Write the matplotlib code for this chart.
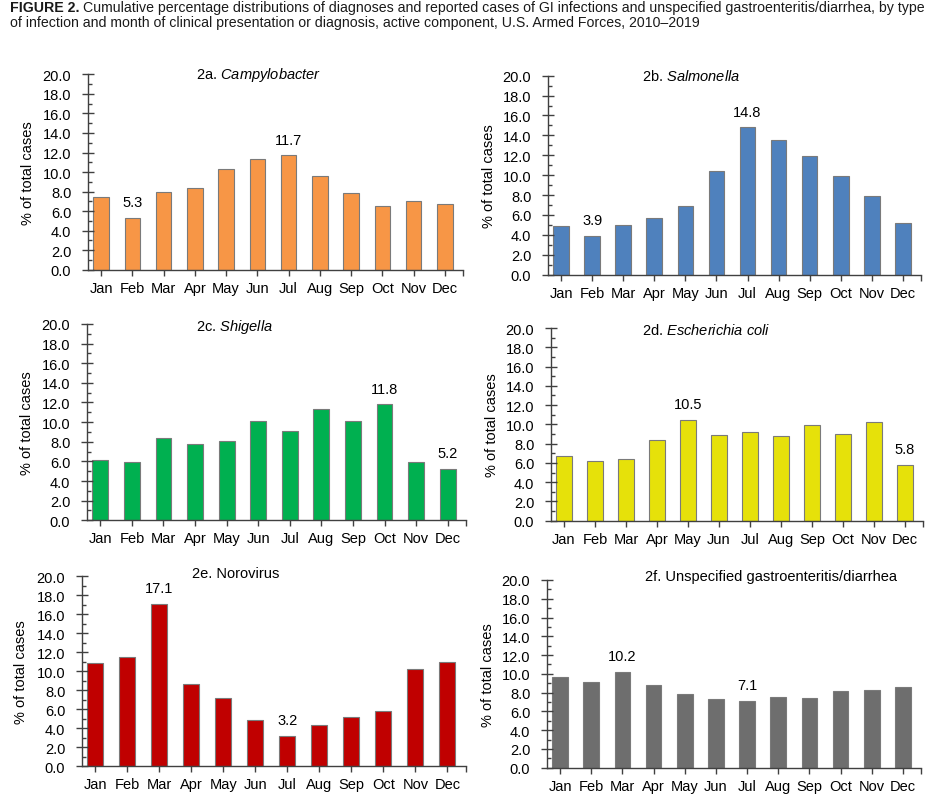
import matplotlib
matplotlib.use("Agg")
import matplotlib.pyplot as plt
from matplotlib.ticker import MultipleLocator, FormatStrFormatter, FixedLocator

plt.rcParams['font.family'] = ['Liberation Sans', 'DejaVu Sans']
plt.rcParams['mathtext.fontset'] = 'custom'
plt.rcParams['mathtext.rm'] = 'Liberation Sans'
plt.rcParams['mathtext.it'] = 'Liberation Sans:italic'

months = ["Jan", "Feb", "Mar", "Apr", "May", "Jun", "Jul", "Aug", "Sep", "Oct", "Nov", "Dec"]

campylobacter = [7.4, 5.3, 8.0, 8.4, 10.3, 11.3, 11.7, 9.6, 7.9, 6.5, 7.0, 6.7]
salmonella = [4.9, 3.9, 5.0, 5.7, 6.9, 10.4, 14.8, 13.5, 11.9, 9.9, 7.9, 5.2]
shigella = [6.1, 5.9, 8.4, 7.8, 8.1, 10.1, 9.1, 11.3, 10.1, 11.8, 5.9, 5.2]
e_coli = [6.7, 6.2, 6.4, 8.4, 10.5, 8.9, 9.2, 8.8, 9.9, 9.0, 10.2, 5.8]
norovirus = [10.9, 11.5, 17.1, 8.6, 7.2, 4.9, 3.2, 4.3, 5.2, 5.8, 10.2, 11.0]
unspecified = [9.7, 9.1, 10.2, 8.8, 7.9, 7.3, 7.1, 7.5, 7.4, 8.2, 8.3, 8.6]

titles = ["2a. $\\mathit{Campylobacter}$", "2b. $\\mathit{Salmonella}$", "2c. $\\mathit{Shigella}$",
          "2d. $\\mathit{Escherichia\\ coli}$", "2e. Norovirus", "2f. Unspecified gastroenteritis/diarrhea"]
# months (index) that carry a value label
labelled = [(1, 6), (1, 6), (9, 11), (4, 11), (2, 6), (2, 6)]

series = [campylobacter, salmonella, shigella, e_coli, norovirus, unspecified]
colors = ["#F79646", "#4F81BD", "#00B050", "#E6E10A", "#C00000", "#6E6E6E"]

# axes boxes in figure fraction: left, bottom, width, height
boxes = [
    (0.0933, 0.6666, 0.3977, 0.2406),
    (0.5811, 0.6605, 0.3955, 0.2451),
    (0.0923, 0.3580, 0.4019, 0.2418),
    (0.5843, 0.3575, 0.3945, 0.2373),
    (0.0870, 0.0554, 0.4072, 0.2336),
    (0.5801, 0.0533, 0.3966, 0.2312),
]
# panel title centre in axes fraction
title_pos = [(0.456, 1.0), (0.385, 1.0), (0.388, 0.99), (0.416, 0.99), (0.40, 1.02), (0.60, 1.02)]

fig = plt.figure(figsize=(9.43, 8.12), dpi=100)

# figure caption
cap_font = ['Liberation Sans Narrow', 'Liberation Sans']
t1 = fig.text(0.0106, 0.9855, "FIGURE 2.", fontsize=10.2, fontweight='bold',
              family=cap_font, color='#1a1a1a', va='baseline')
fig.canvas.draw()
bb = t1.get_window_extent()
x2 = (bb.x1 + 4) / fig.bbox.width
fig.text(x2, 0.9855, "Cumulative percentage distributions of diagnoses and reported cases of GI infections and "
         "unspecified gastroenteritis/diarrhea, by type", fontsize=10.2,
         family=cap_font, color='#1a1a1a', va='baseline')
fig.text(0.0106, 0.9667, "of infection and month of clinical presentation or diagnosis, active component, "
         "U.S. Armed Forces, 2010\u20132019", fontsize=10.2,
         family=cap_font, color='#1a1a1a', va='baseline')

x = list(range(len(months)))
for i in range(6):
    ax = fig.add_axes(boxes[i])
    vals = series[i]
    ax.bar(x, vals, width=0.5, color=colors[i], edgecolor='#7a7a7a', linewidth=0.8)
    ax.set_ylim(0, 20)
    ax.set_xlim(-0.42, 11.58)
    ax.yaxis.set_major_locator(MultipleLocator(2))
    ax.yaxis.set_minor_locator(MultipleLocator(1))
    ax.yaxis.set_major_formatter(FormatStrFormatter('%.1f'))
    ax.set_xticks(x)
    ax.set_xticklabels(months)
    ax.xaxis.set_minor_locator(FixedLocator([11.58]))
    for s in ['top', 'right']:
        ax.spines[s].set_visible(False)
    for s in ['left', 'bottom']:
        ax.spines[s].set_color('#404040')
        ax.spines[s].set_linewidth(1.0)
    ax.tick_params(axis='y', which='major', direction='inout', length=8, width=1.0,
                   color='#404040', labelsize=10.5, pad=8)
    ax.tick_params(axis='y', which='minor', direction='in', length=3, width=1.0, color='#404040')
    ax.tick_params(axis='x', which='both', direction='out', length=4, width=1.0,
                   color='#404040', labelsize=10.5, pad=4)
    ax.set_ylabel("% of total cases", fontsize=10.5)
    ax.yaxis.set_label_coords(-0.14, 0.5)
    ax.text(title_pos[i][0], title_pos[i][1], titles[i], transform=ax.transAxes,
            ha='center', va='center', fontsize=10.5)
    for j in labelled[i]:
        ax.annotate(f"{vals[j]:.1f}", (x[j], vals[j]), xytext=(0, 8.5), textcoords='offset points',
                    ha='center', va='baseline', fontsize=10.5)

fig.savefig("out.png", dpi=100)
